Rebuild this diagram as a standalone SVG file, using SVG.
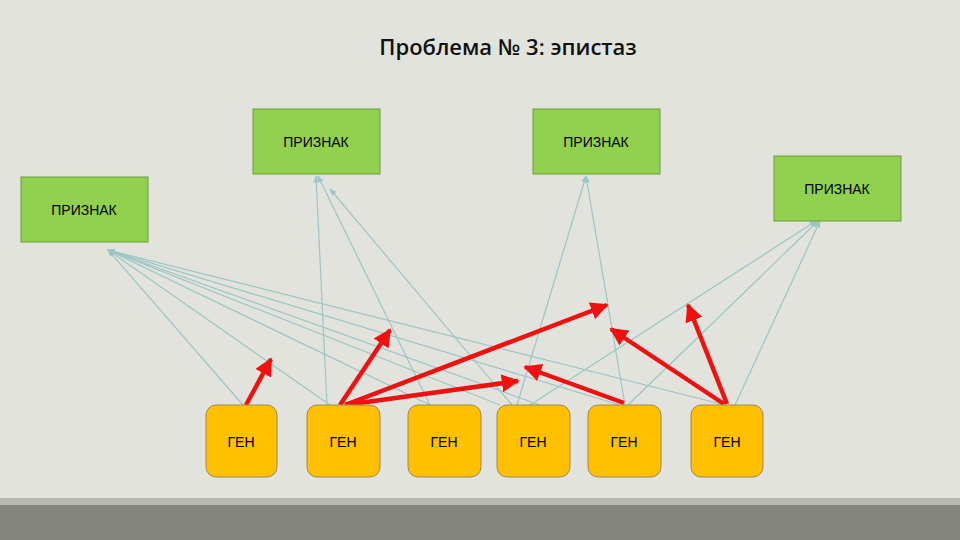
<svg xmlns="http://www.w3.org/2000/svg" width="960" height="540" viewBox="0 0 960 540">
<defs>
<marker id="b" viewBox="0 0 10 10" refX="9" refY="5" markerWidth="6" markerHeight="6" orient="auto"><path d="M0,1 L10,5 L0,9 z" fill="#9cc5c5"/></marker>
<marker id="r" viewBox="0 0 10 10" refX="9" refY="5" markerWidth="4" markerHeight="4" orient="auto"><path d="M0,0 L10,5 L0,10 z" fill="#f01010"/></marker>
</defs>
<style>
.t{font-family:"Liberation Sans",Arial,sans-serif;font-size:14px;text-anchor:middle;fill:#000}
.g rect{fill:#92d050;stroke:#6d9b3a;stroke-width:1}
.y rect{fill:#ffc000;stroke:#9a8a50;stroke-width:1}
.bl line{stroke:#9cc5c5;stroke-width:1.2;marker-end:url(#b)}
.rd line{stroke:#f01010;stroke-width:4.5;marker-end:url(#r)}
</style>
<rect width="960" height="540" fill="#e3e3de"/>
<rect x="0" y="498" width="960" height="7" fill="#b9b9b3"/>
<rect x="0" y="505" width="960" height="35" fill="#84847f"/>
<text x="508" y="55" style="font-family:'Open Sans','Liberation Sans',sans-serif;font-size:22px;font-weight:600;text-anchor:middle;fill:#111">Проблема № 3: эпистаз</text>
<g id="connectors">
<g class="bl">
<line x1="243" y1="405" x2="108" y2="250"/>
<line x1="330" y1="405" x2="108" y2="250"/>
<line x1="430" y1="405" x2="108" y2="250"/>
<line x1="500" y1="405" x2="108" y2="250"/>
<line x1="540" y1="405" x2="108" y2="250"/>
<line x1="620" y1="405" x2="108" y2="250"/>
<line x1="725" y1="405" x2="108" y2="250"/>
<line x1="327" y1="405" x2="316" y2="176"/>
<line x1="430" y1="405" x2="318" y2="176"/>
<line x1="512" y1="405" x2="330" y2="189"/>
<line x1="517" y1="405" x2="586" y2="176"/>
<line x1="625" y1="405" x2="586" y2="176"/>
<line x1="530" y1="405" x2="816" y2="221"/>
<line x1="628" y1="405" x2="818" y2="221"/>
<line x1="735" y1="405" x2="820" y2="221"/>
</g>
<g class="rd">
<line x1="246" y1="405" x2="271" y2="359"/>
<line x1="340" y1="405" x2="390" y2="330"/>
<line x1="345" y1="405" x2="607" y2="305"/>
<line x1="345" y1="405" x2="518" y2="381"/>
<line x1="624" y1="403" x2="525" y2="367"/>
<line x1="724" y1="404" x2="611" y2="329"/>
<line x1="727" y1="404" x2="688" y2="305"/>
</g>
</g>
<g id="p1" class="g"><rect x="21" y="177" width="127" height="65"/><text class="t" x="84" y="215">ПРИЗНАК</text></g>
<g id="p2" class="g"><rect x="253" y="109" width="127" height="65"/><text class="t" x="316" y="147">ПРИЗНАК</text></g>
<g id="p3" class="g"><rect x="533" y="109" width="127" height="65"/><text class="t" x="596" y="147">ПРИЗНАК</text></g>
<g id="p4" class="g"><rect x="774" y="156" width="127" height="65"/><text class="t" x="837" y="194">ПРИЗНАК</text></g>
<g id="g1" class="y"><rect x="206" y="405" width="71" height="72" rx="10"/><text class="t" x="241" y="447">ГЕН</text></g>
<g id="g2" class="y"><rect x="307" y="405" width="73" height="72" rx="10"/><text class="t" x="343" y="447">ГЕН</text></g>
<g id="g3" class="y"><rect x="408" y="405" width="73" height="72" rx="10"/><text class="t" x="444" y="447">ГЕН</text></g>
<g id="g4" class="y"><rect x="497" y="405" width="73" height="72" rx="10"/><text class="t" x="533" y="447">ГЕН</text></g>
<g id="g5" class="y"><rect x="588" y="405" width="73" height="72" rx="10"/><text class="t" x="624" y="447">ГЕН</text></g>
<g id="g6" class="y"><rect x="691" y="405" width="72" height="72" rx="10"/><text class="t" x="727" y="447">ГЕН</text></g>
</svg>
